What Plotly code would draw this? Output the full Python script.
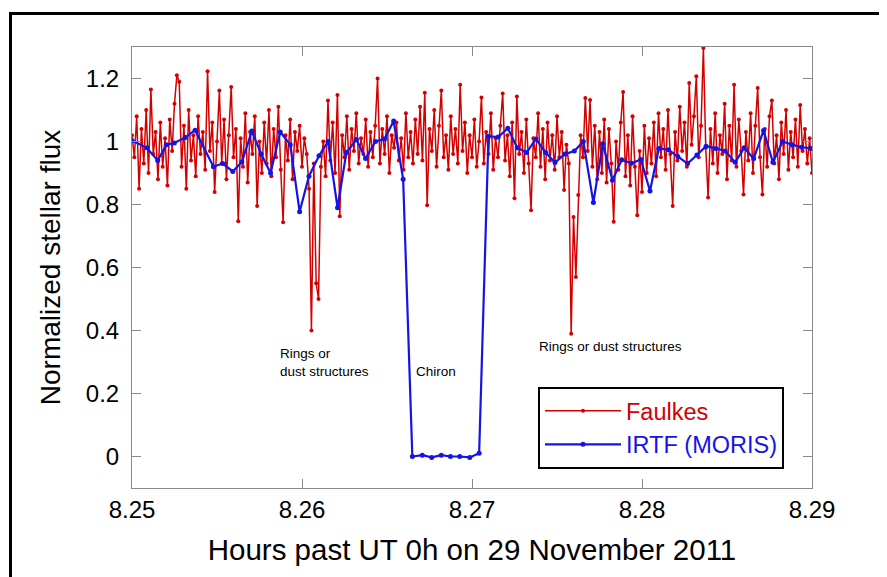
import plotly.graph_objects as go

# ---- Data ----
faulkes_start = 8.25
faulkes_step = 0.04 / 288  # hours between Faulkes samples
faulkes_flux = [
    1.02, 0.95, 1.08, 0.85, 1.04, 0.93, 1.10, 0.90, 1.165, 0.96, 1.03, 0.88, 1.06, 0.92, 1.01, 0.86, 1.07, 0.97, 1.12, 1.21,
    1.19, 0.92, 1.05, 0.85, 1.10, 0.94, 1.02, 0.89, 1.08, 0.96, 1.03, 0.91, 1.223, 0.97, 1.06, 0.84, 1.00, 1.162, 0.93, 1.07,
    0.88, 1.02, 1.173, 0.95, 1.04, 0.747, 1.01, 0.92, 1.09, 0.87, 1.03, 0.96, 1.08, 0.795, 1.00, 0.90, 1.06, 0.93, 1.10, 0.89,
    1.04, 0.95, 1.11, 0.91, 0.744, 1.02, 0.94, 1.07, 0.88, 1.03, 0.97, 1.05, 0.92, 1.01, 0.96, 0.85, 0.40, 0.93, 0.55, 0.50,
    0.92, 1.00, 0.89, 1.13, 0.94, 1.06, 0.90, 1.148, 0.763, 1.02, 0.95, 1.08, 0.91, 1.04, 0.97, 1.09, 0.93, 1.01, 0.96, 1.07,
    0.92, 1.03, 0.95, 1.05, 1.20, 0.93, 1.04, 0.96, 1.08, 0.90, 1.02, 0.98, 1.06, 0.94, 1.01, 0.91, 1.09, 0.95, 1.03, 0.93,
    1.07, 0.96, 1.11, 0.94, 1.155, 0.798, 1.04, 0.97, 1.10, 0.92, 1.05, 1.162, 0.95, 1.02, 0.91, 1.08, 0.96, 1.04, 0.93, 1.18,
    0.97, 1.06, 0.90, 1.02, 0.95, 1.07, 0.92, 1.00, 1.14, 0.93, 1.03, 0.96, 1.09, 0.91, 1.01, 0.95, 1.05, 1.152, 0.94, 1.02,
    0.89, 1.06, 0.82, 1.143, 0.96, 1.03, 0.90, 1.07, 0.93, 0.782, 1.01, 0.95, 1.09, 0.92, 1.04, 0.88, 1.06, 0.94, 1.02, 0.91,
    1.08, 0.95, 1.03, 0.846, 0.99, 0.93, 0.39, 0.76, 0.57, 0.83, 1.02, 0.95, 1.138, 0.97, 1.132, 0.92, 1.05, 0.88, 1.03, 0.90,
    1.07, 0.87, 1.04, 0.93, 0.745, 1.00, 0.91, 1.06, 1.157, 0.89, 1.02, 0.86, 1.08, 0.92, 0.766, 0.97, 0.84, 1.05, 0.90, 1.01,
    0.93, 1.06, 0.89, 1.09, 0.95, 1.04, 0.91, 1.10, 0.96, 0.795, 1.03, 0.94, 1.11, 0.97, 1.06, 0.92, 1.186, 0.99, 1.08, 1.207,
    0.95, 1.05, 1.297, 0.98, 0.822, 1.04, 0.93, 1.09, 0.90, 1.02, 0.96, 1.12, 0.88, 1.05, 0.94, 1.18, 0.92, 1.07, 0.97, 0.832,
    1.03, 0.94, 1.09, 0.90, 1.05, 1.17, 0.95, 0.832, 1.04, 0.92, 1.08, 1.13, 0.93, 1.02, 0.88, 1.06, 0.96, 1.10, 0.91, 1.03,
    0.95, 1.07, 0.92, 1.116, 0.97, 1.04, 0.93, 1.01, 0.90,
]
faulkes_time = [faulkes_start + i * faulkes_step for i in range(len(faulkes_flux))]

irtf_time = [
    8.25000, 8.25087, 8.25151, 8.25204, 8.25249, 8.25314, 8.25371, 8.25479, 8.25534, 8.25593,
    8.25646, 8.25705, 8.25760, 8.25815, 8.25872, 8.25931, 8.25986, 8.26041, 8.26100, 8.26153,
    8.26209, 8.26261, 8.26320, 8.26374, 8.26432, 8.26486, 8.26539, 8.26595,
    8.26649, 8.26708, 8.26763, 8.26819, 8.26873, 8.26928, 8.26987, 8.27042,
    8.27097, 8.27154, 8.27211, 8.27266, 8.27321, 8.27376, 8.27433, 8.27488, 8.27547, 8.27602,
    8.27655, 8.27714, 8.27769, 8.27826, 8.27881, 8.27938, 8.27993, 8.28047, 8.28099, 8.28156,
    8.28211, 8.28268, 8.28323, 8.28377, 8.28434, 8.28489, 8.28548, 8.28601, 8.28657, 8.28715,
    8.28770, 8.28827, 8.28882, 8.28939, 8.28994, 8.29050,
]
irtf_flux = [
    1.003, 0.980, 0.940, 0.990, 0.995, 1.013, 1.036, 0.920, 0.930, 0.905,
    0.935, 1.033, 0.960, 0.900, 1.030, 0.990, 0.777, 0.890, 0.955, 1.000,
    0.790, 0.965, 1.006, 0.946, 1.000, 1.008, 1.065, 0.880,
    0.000, 0.004, -0.003, 0.004, 0.000, 0.000, -0.003, 0.010,
    1.017, 1.014, 1.042, 0.980, 0.965, 1.008, 0.965, 0.933, 0.960, 0.970,
    1.000, 0.806, 0.993, 0.877, 0.942, 0.931, 0.943, 0.843, 0.978, 0.974,
    0.952, 0.930, 0.957, 0.985, 0.978, 0.970, 0.934, 0.980, 0.946, 1.035,
    0.934, 1.000, 0.990, 0.982, 0.978, 0.940,
]

x_ticks = [8.25, 8.26, 8.27, 8.28, 8.29]
x_tick_labels = ["8.25", "8.26", "8.27", "8.28", "8.29"]
y_ticks = [0, 0.2, 0.4, 0.6, 0.8, 1.0, 1.2]
y_tick_labels = ["0", "0.2", "0.4", "0.6", "0.8", "1", "1.2"]

RED = "#d40000"
BLUE = "#1414e6"
FONT = "Liberation Sans, Arial, sans-serif"

fig = go.Figure()
fig.add_trace(go.Scatter(
    x=faulkes_time, y=faulkes_flux, mode="lines+markers",
    name="<span style='color:#d40000'>Faulkes</span>",
    line=dict(color=RED, width=1.5),
    marker=dict(color=RED, size=4),
))
fig.add_trace(go.Scatter(
    x=irtf_time, y=irtf_flux, mode="lines+markers",
    name="<span style='color:#1414e6'>IRTF (MORIS)</span>",
    line=dict(color=BLUE, width=2.2),
    marker=dict(color=BLUE, size=5),
))

axis_common = dict(
    showline=True, linecolor="#8a8a8a", linewidth=1, mirror="ticks",
    ticks="inside", ticklen=9, tickcolor="#8a8a8a", tickwidth=1,
    showgrid=False, zeroline=False,
    tickfont=dict(family=FONT, size=24, color="black"),
)

# The page body adds an 8 px offset, so the figure is 8 px smaller than the window.
fig.update_layout(
    width=879, height=569,
    margin=dict(l=124, r=75, t=39, b=89),
    paper_bgcolor="white", plot_bgcolor="white",
    font=dict(family=FONT, color="black"),
    xaxis=dict(
        range=[8.25, 8.29], tickvals=x_ticks, ticktext=x_tick_labels,
        title=dict(text="Hours past UT 0h on 29 November 2011",
                   font=dict(family=FONT, size=29.5), standoff=17),
        **axis_common,
    ),
    yaxis=dict(
        range=[-0.1, 1.3], tickvals=y_ticks, ticktext=y_tick_labels,
        ticklabelstandoff=7,
        title=dict(text="Normalized stellar flux",
                   font=dict(family=FONT, size=28), standoff=17),
        **axis_common,
    ),
    legend=dict(
        x=(538 - 132) / 680, y=(488 - 387) / 441, xanchor="left", yanchor="top",
        bordercolor="black", borderwidth=2, bgcolor="white",
        font=dict(family=FONT, size=23.5),
        itemwidth=76, tracegroupgap=0,
    ),
    showlegend=True,
)

# annotations
ann_font = dict(family=FONT, size=13.5, color="black")
fig.add_annotation(x=8.25857, y=0.356, text="Rings or<br>dust structures", showarrow=False,
                   xanchor="left", yanchor="top", align="left", font=ann_font)
fig.add_annotation(x=8.2666, y=0.27, text="Chiron", showarrow=False,
                   xanchor="left", yanchor="middle", font=ann_font)
fig.add_annotation(x=8.27385, y=0.35, text="Rings or dust structures", showarrow=False,
                   xanchor="left", yanchor="middle", font=ann_font)

# outer black frame around the figure
fig.add_shape(type="rect", xref="paper", yref="paper",
              x0=(10.5 - 132) / 680, x1=(880.5 - 132) / 680,
              y0=(488 - 590) / 441, y1=(488 - 13.5) / 441,
              line=dict(color="black", width=3), fillcolor="rgba(0,0,0,0)", layer="above")

fig.write_html("out.html")
